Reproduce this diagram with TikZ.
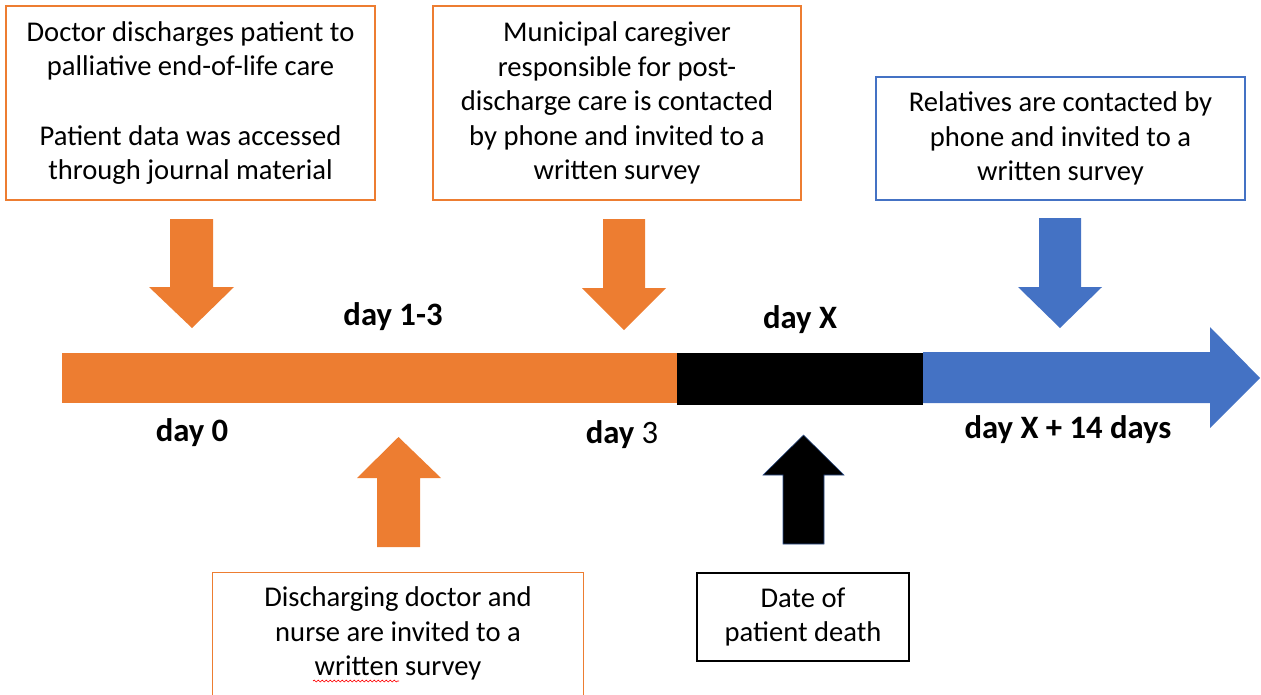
\documentclass[tikz,border=0pt]{standalone}
\usepackage{fontspec}
\setmainfont{Carlito}
\usetikzlibrary{fit,decorations.pathmorphing}
\definecolor{myorange}{HTML}{ED7D31}
\definecolor{myblue}{HTML}{4472C4}
\definecolor{arrowedge}{HTML}{2F528F}
\newcommand\bodyfont{\fontsize{21.45}{25.9}\selectfont}
\newcommand\lblfont{\fontsize{24.5}{29}\selectfont\bfseries}
\begin{document}
\begin{tikzpicture}[x=0.75pt,y=-0.75pt,
  frame/.style={inner sep=0pt, line width=1.1pt},
  txt/.style={inner sep=0pt, align=center, font=\bodyfont},
  lbl/.style={font=\lblfont, anchor=base, inner sep=0pt},
  blockarrow/.style={line width=0.4pt}]
\useasboundingbox (0,0) rectangle (1261,694);

% text boxes
\node[frame, draw=myorange, fit={(6,6) (375,200)}] (b1) {};
\node[txt] (t1) at (b1.center)
  {Doctor discharges patient to\\palliative end-of-life care\\[25.9pt]Patient data was accessed\\through journal material};
\node[frame, draw=myorange, fit={(433,6) (801,200)}] (b2) {};
\node[txt] (t2) at (b2.center)
  {Municipal caregiver\\responsible for post-\\discharge care is contacted\\by phone and invited to a\\written survey};
\node[frame, draw=myblue, fit={(876,77) (1245,200)}] (b3) {};
\node[txt] (t3) at (b3.center)
  {Relatives are contacted by\\phone and invited to a\\written survey};
\node[frame, fit={(213,573) (583,694)}] (b4) {};
\node[txt] (t4) at (b4.center)
  {Discharging doctor and\\nurse are invited to a\\written survey};
\draw[myorange, line width=1.1pt] (b4.south west) -- (b4.north west) -- (b4.north east) -- (b4.south east);
\node[frame, draw=black, fit={(697,573) (909,661)}] (b5) {};
\node[txt] (t5) at (b5.center)
  {Date of\\patient death};

% spell-check squiggle
\coordinate (sq1) at (313,681);
\coordinate (sq2) at (399,681);
\draw[red, line width=0.5pt, decorate, decoration={snake, amplitude=0.7pt, segment length=3pt}] (sq1) -- (sq2);

% block arrows down
\fill[myorange, blockarrow] (170,219) -- (213,219) -- (213,287) -- (234,287) -- (192,328) -- (149,287) -- (170,287) -- cycle;
\fill[myorange, blockarrow] (603,219) -- (645,219) -- (645,288) -- (666,288) -- (624,330) -- (582,288) -- (603,288) -- cycle;
\fill[myblue, blockarrow] (1039,218) -- (1081,218) -- (1081,287) -- (1102,287) -- (1060,328) -- (1018,287) -- (1039,287) -- cycle;
% block arrows up
\fill[myorange, blockarrow] (377,547) -- (420,547) -- (420,478) -- (441,478) -- (398.5,437) -- (357,478) -- (377,478) -- cycle;
\filldraw[fill=black, draw=arrowedge, blockarrow] (783,544) -- (824,544) -- (824,475) -- (844,475) -- (803.5,435) -- (763,475) -- (783,475) -- cycle;

% timeline
\fill[myorange] (62,353) rectangle (677,403);
\fill[black] (677,353) rectangle (923,405);
\fill[myblue] (923,352) -- (1210,352) -- (1210,327) -- (1260,378) -- (1210,428) -- (1210,403) -- (923,403) -- cycle;

% labels
\node[lbl] (l13) at (393,325) {day 1-3};
\node[lbl] (l0) at (192,441) {day 0};
\node[lbl] (lx) at (800,328) {day X};
\node[lbl] (l3) at (622,443) {day \mdseries 3};
\node[lbl] (lx14) at (1068,438) {day X + 14 days};
\end{tikzpicture}
\end{document}
